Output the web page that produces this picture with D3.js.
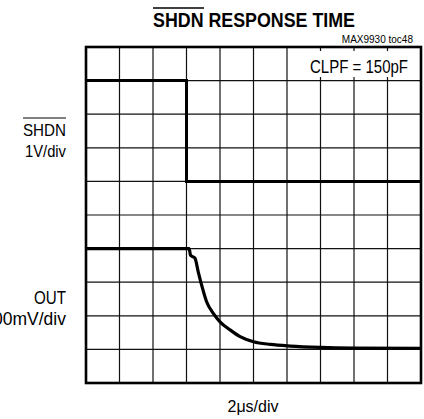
<!DOCTYPE html>
<html>
<head>
<meta charset="utf-8">
<script src="https://cdn.jsdelivr.net/npm/d3@7/dist/d3.min.js"></script>
<style>
  html, body { margin: 0; padding: 0; background: #fff; }
  svg { display: block; font-family: Arial, "Liberation Sans", Helvetica, sans-serif; }
</style>
</head>
<body>
<svg id="chart" width="424" height="419"></svg>
<script>
// Scope capture: 10 x 10 graticule, 2 µs per horizontal division.
// Trace levels are expressed in vertical divisions (0 = bottom edge).
const timeDivisions = 10;
const levelDivisions = 10;
const usPerDiv = 2;

// SHDN input (1V/div): high level drops at t = 6 µs
const shdnTimeUs = [0, 6.0, 6.0, 20];
const shdnLevel  = [9, 9, 6, 6];

// Detector output: flat, then decays exponentially after SHDN goes low
const outTimeUs = [0, 6.16, 6.24, 6.50, 6.70, 6.90, 7.20, 7.60, 8.00, 8.60, 9.20, 10.0, 11.0, 12.2, 14.0, 16.0, 20.0];
const outLevel  = [4.00, 4.00, 3.80, 3.72, 3.31, 2.92, 2.42, 2.07, 1.82, 1.58, 1.38, 1.23, 1.15, 1.10, 1.06, 1.04, 1.03];

const titleText = "SHDN RESPONSE TIME";
const partText = "MAX9930 toc48";
const conditionText = "CLPF = 150pF";
const shdnLabel = ["SHDN", "1V/div"];
const outLabel = ["OUT", "100mV/div"];
const timeLabel = "2\u03BCs/div";

const svg = d3.select("#chart");
const plot = { left: 86, top: 47, right: 421, bottom: 383 };

const x = d3.scaleLinear().domain([0, timeDivisions * usPerDiv]).range([plot.left, plot.right]);
const y = d3.scaleLinear().domain([0, levelDivisions]).range([plot.bottom, plot.top]);

// Graticule
const grid = svg.append("g").attr("stroke", "#111").attr("stroke-width", 1.2).attr("fill", "none");
grid.selectAll("line.v")
  .data(d3.range(1, timeDivisions).map(d => d * usPerDiv))
  .join("line")
  .attr("x1", d => x(d)).attr("x2", d => x(d))
  .attr("y1", plot.top).attr("y2", plot.bottom);
grid.selectAll("line.h")
  .data(d3.range(1, levelDivisions))
  .join("line")
  .attr("x1", plot.left).attr("x2", plot.right)
  .attr("y1", d => y(d)).attr("y2", d => y(d));

// Condition label with a white backing
svg.append("rect")
  .attr("x", 304).attr("y", 51).attr("width", 115).attr("height", 26)
  .attr("fill", "#fff");
svg.append("text")
  .attr("x", 310).attr("y", 73)
  .attr("font-size", 18)
  .attr("textLength", 98).attr("lengthAdjust", "spacingAndGlyphs")
  .text(conditionText);

// Traces
const line = d3.line().x(d => x(d[0])).y(d => y(d[1]));
svg.append("path")
  .datum(d3.zip(shdnTimeUs, shdnLevel))
  .attr("d", line)
  .attr("fill", "none").attr("stroke", "#000").attr("stroke-width", 3);
svg.append("path")
  .datum(d3.zip(outTimeUs, outLevel))
  .attr("d", line.curve(d3.curveMonotoneX))
  .attr("fill", "none").attr("stroke", "#000").attr("stroke-width", 3.2);

// Frame
svg.append("rect")
  .attr("x", plot.left).attr("y", plot.top)
  .attr("width", plot.right - plot.left).attr("height", plot.bottom - plot.top)
  .attr("fill", "none").attr("stroke", "#000").attr("stroke-width", 2.6);

// Title with overbar on SHDN
svg.append("text")
  .attr("x", 153).attr("y", 27)
  .attr("font-size", 20).attr("font-weight", "bold")
  .attr("textLength", 202).attr("lengthAdjust", "spacingAndGlyphs")
  .text(titleText);
svg.append("line")
  .attr("x1", 153).attr("x2", 204).attr("y1", 8).attr("y2", 8)
  .attr("stroke", "#000").attr("stroke-width", 1.5);

svg.append("text")
  .attr("x", 413).attr("y", 43)
  .attr("text-anchor", "end")
  .attr("font-size", 10)
  .text(partText);

// Channel labels
const leftLabel = (lines, baselines, widths, size) => {
  lines.forEach((t, i) => {
    const el = svg.append("text")
      .attr("x", 66).attr("y", baselines[i])
      .attr("text-anchor", "end")
      .attr("font-size", size)
      .text(t);
    if (widths[i]) el.attr("textLength", widths[i]).attr("lengthAdjust", "spacingAndGlyphs");
  });
};
leftLabel(shdnLabel, [136, 157], [43, 41], 17);
svg.append("line")
  .attr("x1", 23).attr("x2", 66).attr("y1", 118).attr("y2", 118)
  .attr("stroke", "#000").attr("stroke-width", 1);
leftLabel(outLabel, [304, 325], [32, null], 17.5);

svg.append("text")
  .attr("x", 253).attr("y", 412)
  .attr("text-anchor", "middle")
  .attr("font-size", 16)
  .text(timeLabel);
</script>
</body>
</html>
